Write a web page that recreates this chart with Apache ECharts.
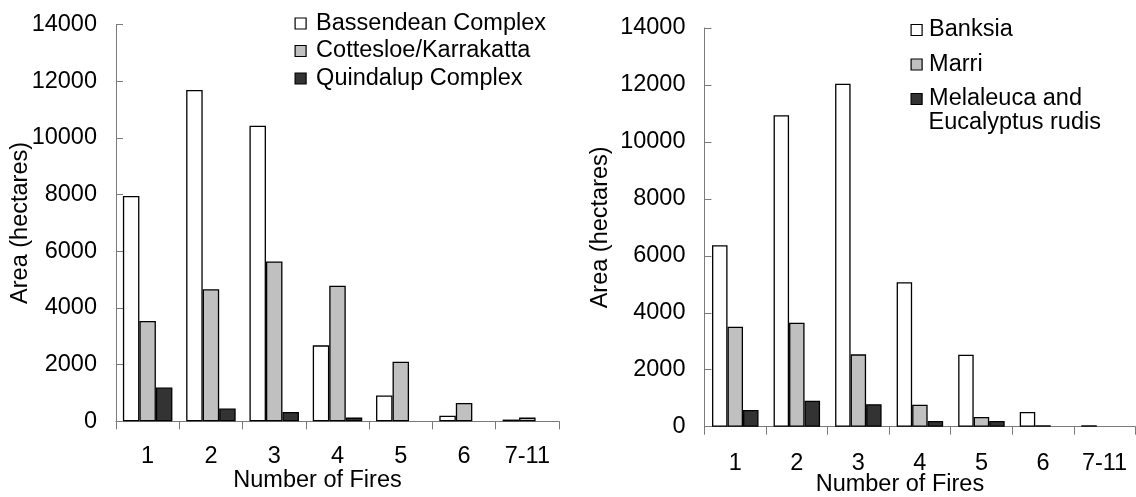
<!DOCTYPE html>
<html>
<head>
<meta charset="utf-8">
<script src="https://cdn.jsdelivr.net/npm/echarts@6/dist/echarts.min.js"></script>
<style>
  html, body { margin: 0; padding: 0; background: #ffffff; }
  #chart { width: 1136px; height: 497px; }
</style>
</head>
<body>
<div id="chart"></div>
<script>
// Fire-frequency classes shared by both panels
const fireClasses = ['1', '2', '3', '4', '5', '6', '7-11'];

// Left panel: area burnt (ha) by landform complex (null = no area)
const landformNames = ['Bassendean Complex', 'Cottesloe/Karrakatta', 'Quindalup Complex'];
const bassendean = [7950, 11690, 10430, 2680, 910, 200, 60];
const cottesloe = [3540, 4660, 5640, 4780, 2100, 650, 130];
const quindalup = [1190, 450, 330, 130, null, null, null];

// Right panel: area burnt (ha) by vegetation type (null = no area)
const vegetationNames = ['Banksia', 'Marri', 'Melaleuca and Eucalyptus rudis'];
const banksia = [6370, 10940, 12040, 5070, 2530, 520, 50];
const marri = [3510, 3650, 2540, 770, 340, 50, null];
const melaleuca = [590, 910, 790, 200, 200, null, null];

// Value axis range
const areaMin = 0;
const areaMax = 14000;
const areaStep = 2000;

const FONT = "'Liberation Sans', Arial, Helvetica, sans-serif";
const FONT_SIZE = 23.5;
const fills = ['#ffffff', '#c0c0c0', '#333333'];
const axisGrey = '#7a7a7a';

function valueAxis(gridIndex, nameGap) {
  return {
    type: 'value',
    gridIndex: gridIndex,
    min: areaMin,
    max: areaMax,
    interval: areaStep,
    name: 'Area (hectares)',
    nameLocation: 'middle',
    nameGap: nameGap,
    nameMoveOverlap: false,
    nameTextStyle: { fontFamily: FONT, fontSize: FONT_SIZE, color: '#000' },
    axisLine: { show: true, lineStyle: { color: axisGrey, width: 1 } },
    axisTick: { show: true, inside: true, length: 7, lineStyle: { color: axisGrey } },
    splitLine: { show: false },
    axisLabel: {
      fontFamily: FONT, fontSize: FONT_SIZE, color: '#000', margin: 19,
      formatter: function (v) { return String(v); }
    }
  };
}

function categoryAxis(gridIndex, labelMargin, nameGap) {
  return {
    type: 'category',
    gridIndex: gridIndex,
    data: fireClasses,
    name: 'Number of Fires',
    nameLocation: 'middle',
    nameGap: nameGap,
    nameMoveOverlap: false,
    nameTextStyle: { fontFamily: FONT, fontSize: FONT_SIZE, color: '#000', padding: [0, 40, 0, 0] },
    axisLine: { show: true, lineStyle: { color: axisGrey, width: 1 } },
    axisTick: { show: true, inside: false, length: 8, alignWithLabel: false, lineStyle: { color: axisGrey } },
    axisLabel: { fontFamily: FONT, fontSize: FONT_SIZE, color: '#000', margin: labelMargin, interval: 0 },
    splitLine: { show: false }
  };
}

function barSeries(name, values, idx, axisIndex, width) {
  return {
    type: 'bar',
    name: name,
    data: values,
    xAxisIndex: axisIndex,
    yAxisIndex: axisIndex,
    barWidth: width,
    barGap: '0%',
    itemStyle: { color: fills[idx], borderColor: '#000', borderWidth: 1.3 },
    emphasis: { disabled: true }
  };
}

const legendText = { fontFamily: FONT, fontSize: FONT_SIZE, color: '#000', lineHeight: 22 };

const chart = echarts.init(document.getElementById('chart'), null, { renderer: 'canvas' });
chart.setOption({
  animation: false,
  backgroundColor: '#ffffff',
  grid: [
    { left: 116, right: 577, top: 24.5, bottom: 75.7, containLabel: false, outerBoundsMode: 'none' },
    { left: 704.5, right: 0.7, top: 28, bottom: 70.3, containLabel: false, outerBoundsMode: 'none' }
  ],
  xAxis: [categoryAxis(0, 23, 47), categoryAxis(1, 25, 46)],
  yAxis: [valueAxis(0, 83), valueAxis(1, 92)],
  legend: [
    {
      orient: 'vertical',
      left: 294.5,
      top: 11.5,
      padding: 0,
      itemGap: 3.5,
      itemWidth: 11,
      itemHeight: 11,
      icon: 'rect',
      selectedMode: false,
      itemStyle: { borderColor: '#000', borderWidth: 1.2 },
      textStyle: Object.assign({ padding: [0, 0, 0, 5] }, legendText),
      data: landformNames
    },
    {
      orient: 'vertical',
      left: 910.5,
      top: 18,
      padding: 0,
      itemGap: 10.5,
      itemWidth: 11,
      itemHeight: 11,
      icon: 'rect',
      selectedMode: false,
      itemStyle: { borderColor: '#000', borderWidth: 1.2 },
      textStyle: Object.assign({ padding: [0, 0, 0, 2] }, legendText),
      formatter: function (name) {
        return name === vegetationNames[2] ? 'Melaleuca and' : name;
      },
      data: vegetationNames
    }
  ],
  graphic: [
    {
      type: 'text',
      left: 928.5,
      top: 111,
      style: { text: 'Eucalyptus rudis', font: FONT_SIZE + 'px ' + FONT, fill: '#000' }
    }
  ],
  series: [
    barSeries(landformNames[0], bassendean, 0, 0, 16.5),
    barSeries(landformNames[1], cottesloe, 1, 0, 16.5),
    barSeries(landformNames[2], quindalup, 2, 0, 16.5),
    barSeries(vegetationNames[0], banksia, 0, 1, 15.5),
    barSeries(vegetationNames[1], marri, 1, 1, 15.5),
    barSeries(vegetationNames[2], melaleuca, 2, 1, 15.5)
  ]
});
</script>
</body>
</html>
